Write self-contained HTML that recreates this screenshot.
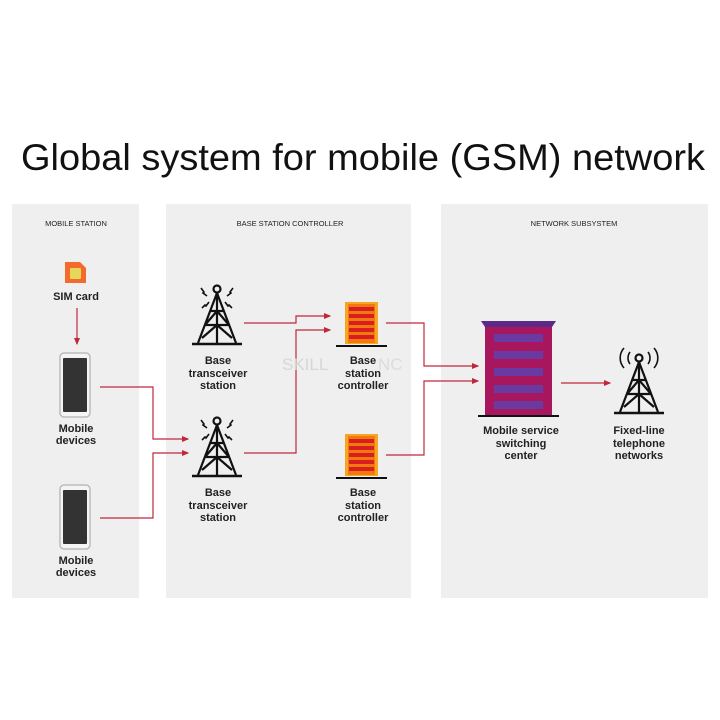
<!DOCTYPE html>
<html><head><meta charset="utf-8"><style>
html,body{margin:0;padding:0;background:#fff;}
svg{display:block}
text{font-family:"Liberation Sans",sans-serif;}
</style></head><body>
<svg width="720" height="720" viewBox="0 0 720 720" xmlns="http://www.w3.org/2000/svg">
<defs>
<g id="tower" fill="none" stroke="#111" stroke-width="2.2">
  <circle cx="0" cy="6" r="3.5"/>
  <path d="M0 10 L-19 60 M0 10 L19 60 M0 10 L0 60 M-12 42 L12 42 M-15 55 L0 42 L15 55 M-7 28 L7 28 M-12 42 L0 28 L12 42"/>
  <path d="M-25 61 L25 61" stroke-width="2.6"/>
</g>
<g id="bsc">
  <rect x="0" y="0" width="33" height="42" fill="#f5a623"/>
  <rect x="3" y="2" width="27" height="39" fill="#f07a10"/>
  <g fill="#d81e1e"><rect x="4" y="5" width="25" height="4"/><rect x="4" y="12" width="25" height="4"/><rect x="4" y="19" width="25" height="4"/><rect x="4" y="26" width="25" height="4"/><rect x="4" y="33" width="25" height="4"/></g>
  <rect x="-9" y="43" width="51" height="2" fill="#111"/>
</g>
<g id="phone">
  <rect x="0" y="0" width="30" height="64" rx="4" fill="#f4f4f4" stroke="#bbb" stroke-width="1.5"/>
  <rect x="3" y="5" width="24" height="54" rx="1" fill="#333"/>
</g>
<marker id="ah" markerWidth="6" markerHeight="6" refX="5" refY="3" orient="auto"><path d="M0 0.5 L6 3 L0 5.5 Z" fill="#c0283a"/></marker>
</defs>

<text x="21" y="170" font-size="37" fill="#111" textLength="684" lengthAdjust="spacingAndGlyphs">Global system for mobile (GSM) network</text>

<rect x="12" y="204" width="127" height="394" fill="#efefef"/>
<rect x="166" y="204" width="245" height="394" fill="#efefef"/>
<rect x="441" y="204" width="267" height="394" fill="#efefef"/>

<g font-size="7.5" fill="#222" text-anchor="middle">
<text x="76" y="226">MOBILE STATION</text>
<text x="290" y="226">BASE STATION CONTROLLER</text>
<text x="574" y="226">NETWORK SUBSYSTEM</text>
</g>

<path d="M65 262 L80 262 L86 268 L86 283 L65 283 Z" fill="#f26b2d"/>
<rect x="70" y="268" width="11" height="11" rx="1" fill="#e6d65a"/>

<g stroke="#c0283a" stroke-width="1.2" fill="none">
<path d="M77 308 L77 344" marker-end="url(#ah)"/>
<path d="M100 387 L153 387 L153 439 L188 439" marker-end="url(#ah)"/>
<path d="M100 518 L153 518 L153 453 L188 453" marker-end="url(#ah)"/>
<path d="M244 323 L296 323 L296 316 L330 316" marker-end="url(#ah)"/>
<path d="M244 453 L296 453 L296 330 L330 330" marker-end="url(#ah)"/>
<path d="M386 323 L424 323 L424 366 L478 366" marker-end="url(#ah)"/>
<path d="M386 455 L424 455 L424 381 L478 381" marker-end="url(#ah)"/>
<path d="M561 383 L610 383" marker-end="url(#ah)"/>
</g>

<use href="#phone" x="60" y="353"/>
<use href="#phone" x="60" y="485"/>

<use href="#tower" x="217" y="283"/>
<use href="#tower" x="217" y="415"/>
<g stroke="#111" stroke-width="1.6" fill="none">
<path d="M201 288 l3 4 l-1 1 l4 3 M233 288 l-3 4 l1 1 l-4 3 M202 308 l3 -3 l1 1 l3 -4 M232 308 l-3 -3 l-1 1 l-3 -4"/>
<path d="M201 420 l3 4 l-1 1 l4 3 M233 420 l-3 4 l1 1 l-4 3 M202 440 l3 -3 l1 1 l3 -4 M232 440 l-3 -3 l-1 1 l-3 -4"/>
</g>

<use href="#bsc" x="345" y="302"/>
<use href="#bsc" x="345" y="434"/>

<path d="M481 321 L556 321 L552 327 L485 327 Z" fill="#5b2a86"/>
<rect x="485" y="327" width="67" height="88" fill="#a8175e"/>
<g fill="#6a3aa0"><rect x="494" y="334" width="49" height="8"/><rect x="494" y="351" width="49" height="8"/><rect x="494" y="368" width="49" height="8"/><rect x="494" y="385" width="49" height="8"/><rect x="494" y="401" width="49" height="8"/></g>
<rect x="478" y="415" width="81" height="2" fill="#111"/>

<use href="#tower" x="639" y="352"/>
<g fill="none" stroke="#111" stroke-width="1.6">
<path d="M630 352 a10 10 0 0 0 0 12 M648 352 a10 10 0 0 1 0 12"/>
<path d="M624 348 a15 15 0 0 0 0 20 M654 348 a15 15 0 0 1 0 20"/>
</g>

<text x="282" y="370" font-size="17" fill="#d6d6d6">SKILL</text>
<text x="378" y="370" font-size="17" fill="#dcdcdc">NC</text>

<g font-size="11" font-weight="bold" fill="#222" text-anchor="middle">
<text x="76" y="300">SIM card</text>
<text x="76" y="432">Mobile</text><text x="76" y="444">devices</text>
<text x="76" y="564">Mobile</text><text x="76" y="576">devices</text>
<text x="218" y="364">Base</text><text x="218" y="377">transceiver</text><text x="218" y="389">station</text>
<text x="218" y="496">Base</text><text x="218" y="509">transceiver</text><text x="218" y="521">station</text>
<text x="363" y="364">Base</text><text x="363" y="377">station</text><text x="363" y="389">controller</text>
<text x="363" y="496">Base</text><text x="363" y="509">station</text><text x="363" y="521">controller</text>
<text x="521" y="434">Mobile service</text><text x="521" y="447">switching</text><text x="521" y="459">center</text>
<text x="639" y="434">Fixed-line</text><text x="639" y="447">telephone</text><text x="639" y="459">networks</text>
</g>
</svg>
</body></html>
